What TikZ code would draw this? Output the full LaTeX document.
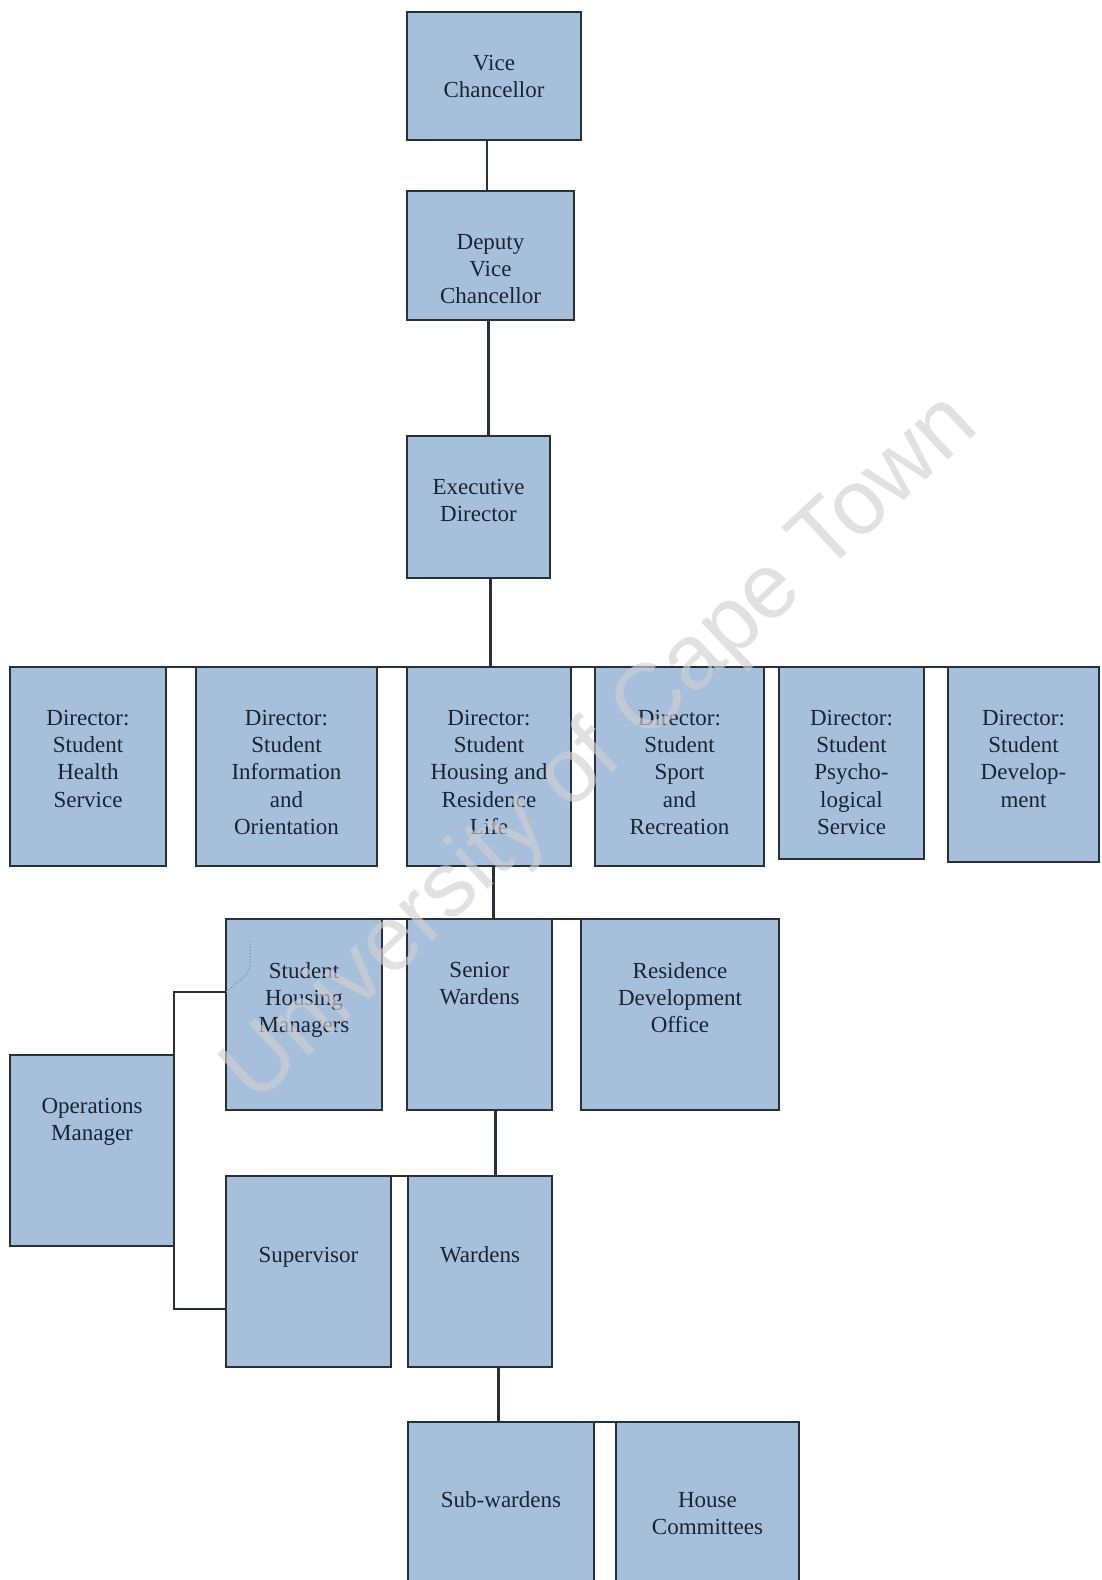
\documentclass[tikz,border=0pt]{standalone}
\usepackage{fontspec}
\setmainfont{Liberation Serif}
\newfontfamily\wmfont{Liberation Sans}
\definecolor{boxfill}{RGB}{166,191,218}
\definecolor{boxline}{RGB}{40,48,58}
\definecolor{txtcol}{RGB}{28,36,50}
\tikzset{
  orgbox/.style={draw=boxline, fill=boxfill, line width=2.8pt, inner sep=0pt, outer sep=0pt, anchor=north west},
  lbl/.style={anchor=north, align=center, inner sep=0pt, text=txtcol, font=\fontsize{23}{27.2}\selectfont, execute at begin node={\rule{0pt}{20pt}}},
  conn/.style={draw=boxline, line width=2.6pt},
  wm/.style={text=black!18, text opacity=0.65, font=\wmfont\fontsize{92}{100}\selectfont, inner sep=0pt},
}
\begin{document}
\begin{tikzpicture}[x=1pt,y=-1pt]
\clip (0,0) rectangle (1101,1580);
\fill[white] (0,0) rectangle (1101,1580);
% boxes
\node[orgbox, minimum width=174pt, minimum height=128pt] (vc)  at (407,12) {};
\node[orgbox, minimum width=167pt, minimum height=129pt] (dvc) at (407,191) {};
\node[orgbox, minimum width=143pt, minimum height=142pt] (ed)  at (407,436) {};
\node[orgbox, minimum width=156pt, minimum height=199pt] (d1) at (10,667) {};
\node[orgbox, minimum width=181pt, minimum height=199pt] (d2) at (196,667) {};
\node[orgbox, minimum width=164pt, minimum height=199pt] (d3) at (407,667) {};
\node[orgbox, minimum width=169pt, minimum height=199pt] (d4) at (595,667) {};
\node[orgbox, minimum width=145pt, minimum height=192pt] (d5) at (779,667) {};
\node[orgbox, minimum width=151pt, minimum height=195pt] (d6) at (948,667) {};
\node[orgbox, minimum width=156pt, minimum height=191pt] (shm) at (226,919) {};
\node[orgbox, minimum width=145pt, minimum height=191pt] (sw)  at (407,919) {};
\node[orgbox, minimum width=198pt, minimum height=191pt] (rdo) at (581,919) {};
\node[orgbox, minimum width=164pt, minimum height=191pt] (om)  at (10,1055) {};
\node[orgbox, minimum width=165pt, minimum height=191pt] (sup) at (226,1176) {};
\node[orgbox, minimum width=144pt, minimum height=191pt] (war) at (408,1176) {};
\node[orgbox, minimum width=186pt, minimum height=200pt] (sub) at (408,1422) {};
\node[orgbox, minimum width=183pt, minimum height=200pt] (hc)  at (616,1422) {};
% connectors
\draw[conn] ([xshift=80pt]vc.south west) -- ([xshift=80pt]vc.south west |- dvc.north);
\draw[conn] ([xshift=81.5pt]dvc.south west) -- ([xshift=81.5pt]dvc.south west |- ed.north);
\draw[conn] ([xshift=83.5pt]ed.south west) -- ([xshift=83.5pt]ed.south west |- d3.north);
\draw[conn] (d1.north west) -- (d6.north east);
\draw[conn] ([xshift=86.5pt]d3.south west) -- ([xshift=86.5pt]d3.south west |- sw.north);
\draw[conn] (shm.north west) -- (rdo.north east);
\draw[conn] ([xshift=88.5pt]sw.south west) -- ([xshift=88.5pt]sw.south west |- war.north);
\draw[conn] (sup.north west) -- (war.north east);
\draw[conn] ([xshift=90.5pt]war.south west) -- ([xshift=90.5pt]war.south west |- sub.north);
\draw[conn] (sub.north west) -- (hc.north east);
\coordinate (c1) at ([yshift=-73pt]shm.north west);
\coordinate (c2) at ([yshift=-133pt]sup.north west);
\draw[conn] (c1) -- (c1 -| om.east) -- (c2 -| om.east) -- (c2);
\coordinate (dt1) at ([xshift=24pt,yshift=-22pt]shm.north west);
\draw[boxline!60, line width=1pt, dotted] (dt1) -- ++(0,26) -- ++(-4,8) -- (c1);
% labels
\node[lbl] (vc-t)  at ([yshift=-43pt]vc.north)  {Vice\\Chancellor};
\node[lbl] (dvc-t) at ([yshift=-43pt]dvc.north) {Deputy\\Vice\\Chancellor};
\node[lbl] (ed-t)  at ([yshift=-43pt]ed.north)  {Executive\\Director};
\node[lbl] (d1-t)  at ([yshift=-43pt]d1.north)  {Director:\\Student\\Health\\Service};
\node[lbl] (d2-t)  at ([yshift=-43pt]d2.north)  {Director:\\Student\\Information\\and\\Orientation};
\node[lbl] (d3-t)  at ([yshift=-43pt]d3.north)  {Director:\\Student\\Housing and\\Residence\\Life};
\node[lbl] (d4-t)  at ([yshift=-43pt]d4.north)  {Director:\\Student\\Sport\\and\\Recreation};
\node[lbl] (d5-t)  at ([yshift=-43pt]d5.north)  {Director:\\Student\\Psycho-\\logical\\Service};
\node[lbl] (d6-t)  at ([yshift=-43pt]d6.north)  {Director:\\Student\\Develop-\\ment};
\node[lbl] (shm-t) at ([yshift=-43pt]shm.north) {Student\\Housing\\Managers};
\node[lbl] (sw-t)  at ([yshift=-43pt]sw.north)  {Senior\\Wardens};
\node[lbl] (rdo-t) at ([yshift=-43pt]rdo.north) {Residence\\Development\\Office};
\node[lbl] (om-t)  at ([yshift=-43pt]om.north)  {Operations\\Manager};
\node[lbl] (sup-t) at ([yshift=-66pt]sup.north) {Supervisor};
\node[lbl] (war-t) at ([yshift=-66pt]war.north) {Wardens};
\node[lbl] (sub-t) at ([yshift=-65pt]sub.north) {Sub-wardens};
\node[lbl] (hc-t)  at ([yshift=-70pt]hc.north)  {House\\Committees};
% watermark
\node[wm, rotate=43] (wmark) at (602,750) {University of Cape Town};
\end{tikzpicture}
\end{document}
